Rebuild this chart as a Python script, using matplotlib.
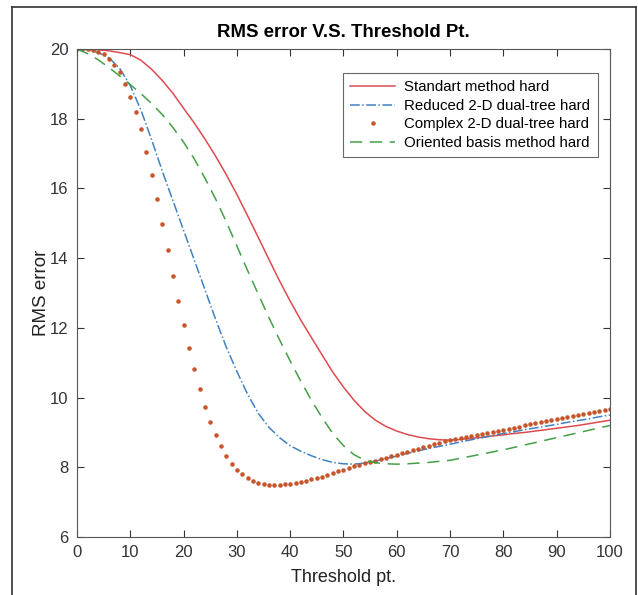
import numpy as np
import matplotlib.pyplot as plt
from matplotlib.lines import Line2D

plt.rcParams['font.family'] = ['Liberation Sans', 'DejaVu Sans']

# x grid for the three line series (step 2)
x_line = np.arange(0, 101, 2)

standard_hard = [20.0, 20.0, 19.98, 19.95, 19.9, 19.84, 19.68, 19.42, 19.1, 18.73,
                 18.3, 17.88, 17.42, 16.93, 16.4, 15.83, 15.22, 14.6, 13.97, 13.35,
                 12.77, 12.22, 11.72, 11.22, 10.73, 10.3, 9.92, 9.6, 9.35, 9.17,
                 9.04, 8.94, 8.87, 8.82, 8.79, 8.78, 8.8, 8.83, 8.86, 8.9,
                 8.93, 8.97, 9.0, 9.04, 9.08, 9.12, 9.16, 9.2, 9.25, 9.3, 9.35]

reduced_hard = [20.0, 19.98, 19.9, 19.75, 19.45, 18.95, 18.25, 17.4, 16.5, 15.65,
                14.8, 13.95, 13.1, 12.25, 11.45, 10.75, 10.1, 9.55, 9.15, 8.85,
                8.62, 8.46, 8.33, 8.22, 8.14, 8.1, 8.09, 8.12, 8.18, 8.25,
                8.32, 8.4, 8.47, 8.54, 8.6, 8.66, 8.73, 8.79, 8.85, 8.91,
                8.97, 9.02, 9.08, 9.13, 9.18, 9.23, 9.29, 9.34, 9.39, 9.45, 9.5]

oriented_hard = [20.0, 19.87, 19.69, 19.47, 19.23, 18.98, 18.72, 18.44, 18.12, 17.75,
                 17.33, 16.85, 16.3, 15.7, 15.05, 14.35, 13.65, 12.97, 12.3, 11.66,
                 11.05, 10.47, 9.92, 9.42, 8.97, 8.62, 8.36, 8.2, 8.13, 8.1,
                 8.09, 8.1, 8.12, 8.14, 8.17, 8.2, 8.26, 8.32, 8.38, 8.44,
                 8.5, 8.57, 8.64, 8.71, 8.78, 8.85, 8.92, 8.99, 9.06, 9.13, 9.2]

# dotted series, one dot per integer threshold
x_dots = np.arange(0, 101)
complex_hard = [20.0, 20.0, 20.0, 19.98, 19.93, 19.85, 19.72, 19.55, 19.33, 19.0,
                18.63, 18.2, 17.7, 17.05, 16.4, 15.7, 14.98, 14.23, 13.5, 12.78,
                12.08, 11.42, 10.81, 10.24, 9.74, 9.3, 8.92, 8.6, 8.32, 8.1,
                7.93, 7.8, 7.68, 7.6, 7.54, 7.51, 7.49, 7.48, 7.49, 7.51,
                7.53, 7.56, 7.59, 7.62, 7.65, 7.69, 7.73, 7.78, 7.83, 7.88,
                7.93, 7.98, 8.03, 8.07, 8.11, 8.15, 8.19, 8.23, 8.28, 8.32,
                8.36, 8.4, 8.45, 8.49, 8.53, 8.57, 8.62, 8.66, 8.7, 8.74,
                8.78, 8.81, 8.84, 8.87, 8.9, 8.93, 8.96, 8.99, 9.02, 9.05,
                9.08, 9.11, 9.14, 9.17, 9.2, 9.23, 9.26, 9.29, 9.32, 9.35,
                9.38, 9.41, 9.44, 9.47, 9.5, 9.53, 9.56, 9.59, 9.62, 9.65, 9.68]

x_ticks = np.arange(0, 101, 10)
y_ticks = np.arange(6, 21, 2)

fig = plt.figure(figsize=(6.38, 5.95), dpi=100)
ax = fig.add_axes([0.1207, 0.0975, 0.8353, 0.82])

ax.plot(x_line, standard_hard, color='#de4a50', lw=1.1, label='Standart method hard')
ax.plot(x_line, reduced_hard, color='#3f82c4', lw=1.1, ls='-.', label='Reduced 2-D dual-tree hard')
ax.plot(x_dots, complex_hard, color='#c8552a', ls='none', marker='.', markersize=4.5,
        label='Complex 2-D dual-tree hard')
ax.plot(x_line, oriented_hard, color='#42a047', lw=1.1, ls=(0, (8, 5)), label='Oriented basis method hard')

ax.set_xlim(0, 100)
ax.set_ylim(6, 20)
ax.set_xticks(x_ticks)
ax.set_yticks(y_ticks)
ax.tick_params(direction='in', top=True, right=True, labelsize=12, colors='#333333',
               length=5, pad=6)
for s in ax.spines.values():
    s.set_color('#555555')

ax.set_title('RMS error V.S. Threshold Pt.', fontsize=13.4, fontweight='bold', pad=9)
ax.set_xlabel('Threshold pt.', fontsize=13, color='#222222', labelpad=6)
ax.set_ylabel('RMS error', fontsize=13.5, color='#222222', labelpad=0)

leg = ax.legend(loc='upper right', bbox_to_anchor=(0.977, 0.951), fontsize=10.8, frameon=True,
                fancybox=False, edgecolor='#444444', handlelength=3.0, handletextpad=0.6,
                labelspacing=0.3, borderpad=0.5, borderaxespad=0)
leg.get_frame().set_linewidth(0.8)

# outer frame around the picture (no bottom edge)
fig.add_artist(Line2D([0.019, 0.019], [0, 0.988], color='#333333', lw=1.2))
fig.add_artist(Line2D([0.997, 0.997], [0, 0.988], color='#333333', lw=1.2))
fig.add_artist(Line2D([0.019, 0.997], [0.988, 0.988], color='#333333', lw=1.2))

fig.savefig('out.png', dpi=100)
